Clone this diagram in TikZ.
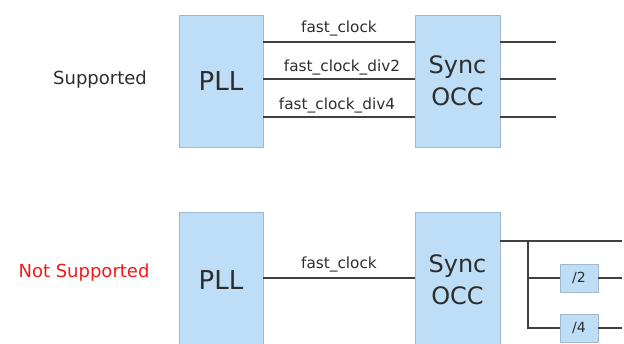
\documentclass[tikz,border=0pt]{standalone}
\usepackage{fontspec}
\setmainfont{DejaVu Sans}
\definecolor{boxfill}{RGB}{189,222,246}
\definecolor{boxdraw}{RGB}{160,185,205}
\definecolor{wire}{RGB}{64,64,64}
\definecolor{txt}{RGB}{45,45,45}
\definecolor{nsred}{RGB}{240,25,25}
\tikzset{
  blk/.style={draw=boxdraw, line width=0.8pt, fill=boxfill, text=txt, inner sep=0pt, align=center, font=\fontsize{24}{32}\selectfont},
  divbox/.style={draw=boxdraw, line width=0.8pt, fill=boxfill, text=txt, inner sep=0pt, minimum width=38pt, minimum height=28pt, font=\fontsize{14}{16}\selectfont},
  wireline/.style={draw=wire, line width=1.6pt},
  lbl/.style={text=txt, font=\fontsize{15.3}{16}\selectfont, inner sep=0pt},
  side/.style={font=\fontsize{18}{20}\selectfont, inner sep=0pt}
}
\begin{document}
\begin{tikzpicture}[x=1pt,y=-1pt]
\useasboundingbox (0,0) rectangle (624,344);
\clip (0,0) rectangle (624,344);
% top row
\node[side, text=txt] (sup) at (100,80) {Supported};
\node[blk, minimum width=84pt, minimum height=132pt, font=\fontsize{26}{32}\selectfont] (pllA) at (221,81) {PLL};
\node[blk, minimum width=85pt, minimum height=132pt] (syncA) at (457.5,81) {Sync\\OCC};
\coordinate (ya) at (0,42);
\coordinate (yb) at (0,79);
\coordinate (yc) at (0,117);
\coordinate (outA) at (556,0);
\draw[wireline] (pllA.east |- ya) -- node[lbl, above=5pt]{fast\_clock} (syncA.west |- ya);
\draw[wireline] (pllA.east |- yb) -- node[lbl, above=3pt, xshift=3pt]{fast\_clock\_div2} (syncA.west |- yb);
\draw[wireline] (pllA.east |- yc) -- node[lbl, above=3pt, xshift=-2pt]{fast\_clock\_div4} (syncA.west |- yc);
\draw[wireline] (syncA.east |- ya) -- (outA |- ya);
\draw[wireline] (syncA.east |- yb) -- (outA |- yb);
\draw[wireline] (syncA.east |- yc) -- (outA |- yc);
% bottom row
\node[side, text=nsred] (nsup) at (84,273) {Not Supported};
\node[blk, minimum width=84pt, minimum height=136pt, font=\fontsize{26}{32}\selectfont] (pllB) at (221,280) {PLL};
\node[blk, minimum width=85pt, minimum height=136pt] (syncB) at (457.5,280) {Sync\\OCC};
\coordinate (yd) at (0,278);
\coordinate (ye) at (0,241);
\coordinate (br) at (528,0);
\coordinate (outB) at (622,0);
\node[divbox] (d2) at (579,278) {/2};
\node[divbox] (d4) at (579,328) {/4};
\draw[wireline] (pllB.east |- yd) -- node[lbl, above=5pt]{fast\_clock} (syncB.west |- yd);
\draw[wireline] (syncB.east |- ye) -- (outB |- ye);
\draw[wireline] (br |- ye) -- (br |- d4.west) -- (d4.west);
\draw[wireline] (br |- d2.west) -- (d2.west);
\draw[wireline] (d2.east) -- (outB |- d2.east);
\draw[wireline] (d4.east) -- (outB |- d4.east);
\end{tikzpicture}
\end{document}
